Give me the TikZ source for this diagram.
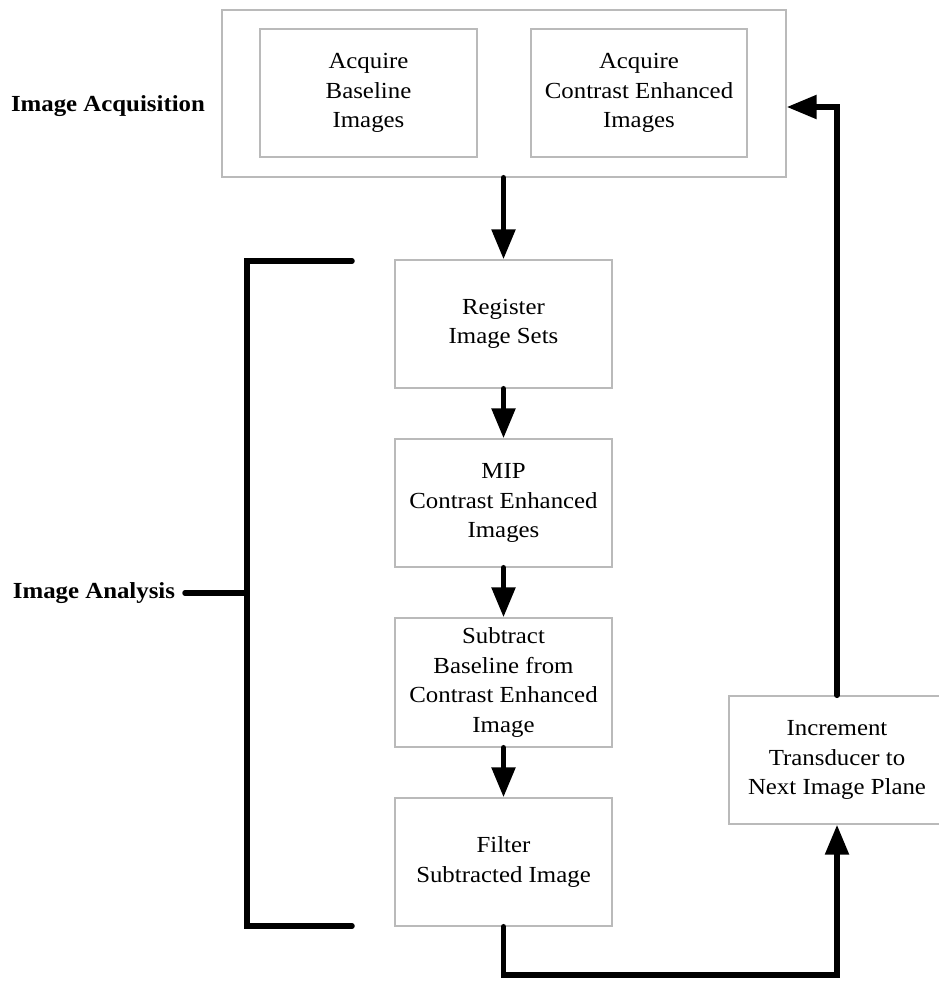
\documentclass[tikz,border=0pt]{standalone}
\usepackage{fontspec}
\setmainfont{Liberation Serif}[FakeStretch=1.08]
\usetikzlibrary{arrows.meta}
\begin{document}
\begin{tikzpicture}[x=1pt,y=-1pt,
  txt/.style={font=\fontsize{23}{29.5}\selectfont, align=center},
  lbl/.style={font=\fontsize{23}{29.5}\selectfont\bfseries, align=center},
  box/.style={txt, draw=black!27, line width=1.4pt, inner sep=0pt},
  flow/.style={line width=5.5pt, line cap=round, line join=miter, -{Triangle[length=30pt,width=23pt]}},
  brk/.style={line width=5.5pt, line cap=round, line join=miter}
]
\useasboundingbox (0,0) rectangle (939,982);
\fill[white] (0,0) rectangle (939,982);

\node[box, minimum width=564pt, minimum height=167pt] (outer) at (504,93.5) {};
\node[box, minimum width=217pt, minimum height=128pt] (b1) at (368.5,93) {Acquire\\Baseline\\Images};
\node[box, minimum width=216pt, minimum height=128pt] (b2) at (639,93) {Acquire\\Contrast Enhanced\\Images};
\node[lbl] (acq) at (108,106) {Image Acquisition};

\node[box, minimum width=217pt, minimum height=128pt] (reg) at (503.5,324) {Register\\Image Sets};
\node[box, minimum width=217pt, minimum height=128pt] (mip) at (503.5,503) {MIP\\Contrast Enhanced\\Images};
\node[box, minimum width=217pt, minimum height=129pt] (sub) at (503.5,682.5) {Subtract\\Baseline from\\Contrast Enhanced\\Image};
\node[box, minimum width=217pt, minimum height=128pt] (filt) at (503.5,862) {Filter\\Subtracted Image};
\node[box, minimum width=216pt, minimum height=128pt] (inc) at (837,760) {Increment\\Transducer to\\Next Image Plane};

\node[lbl] (ana) at (94,593) {Image Analysis};

\coordinate (bot) at (0,975);
\coordinate (fb) at (0,107);
\coordinate (bt) at (352,261);
\coordinate (bb) at (352,926);
\coordinate (bx) at (247,593);
\coordinate (tk) at (185,593);

\draw[flow] (reg.north |- outer.south) -- (reg.north);
\draw[flow] (reg.south) -- (mip.north);
\draw[flow] (mip.south) -- (sub.north);
\draw[flow] (sub.south) -- (filt.north);
\draw[flow] (filt.south) -- (filt.south |- bot) -| (inc.south);
\draw[flow] (inc.north) -- (inc.north |- fb) -- (outer.east |- fb);

\draw[brk] (bt) -- (bx |- bt) -- (bx |- bb) -- (bb);
\draw[brk] (tk) -- (bx);
\end{tikzpicture}
\end{document}
